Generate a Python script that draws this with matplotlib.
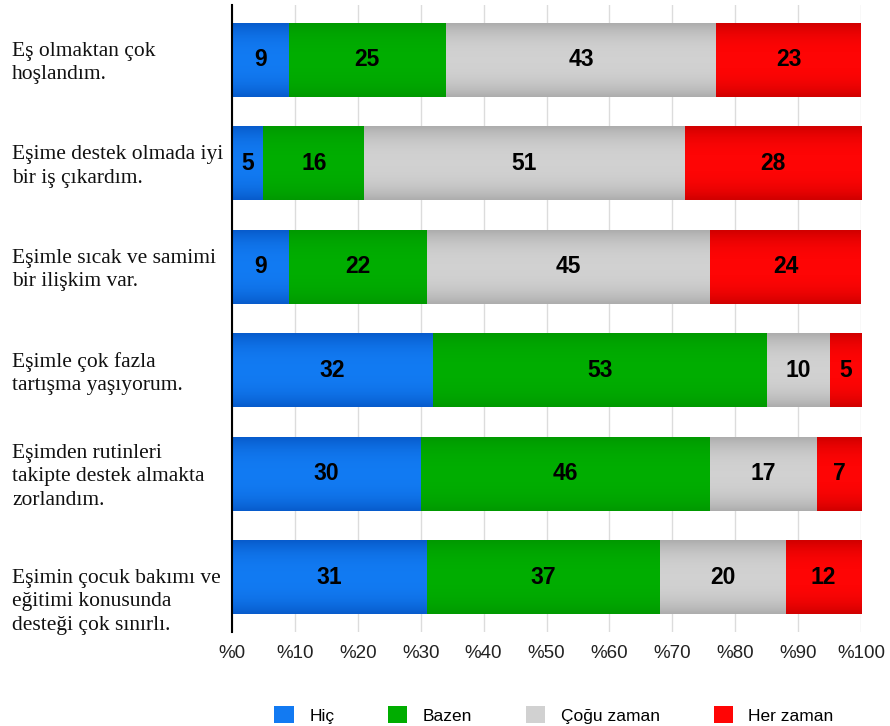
import numpy as np
import matplotlib
matplotlib.use("Agg")
import matplotlib.pyplot as plt
import matplotlib.transforms as mtransforms
from matplotlib.patches import Patch

# data
items = [
    "Eş olmaktan çok\nhoşlandım.",
    "Eşime destek olmada iyi\nbir iş çıkardım.",
    "Eşimle sıcak ve samimi\nbir ilişkim var.",
    "Eşimle çok fazla\ntartışma yaşıyorum.",
    "Eşimden rutinleri\ntakipte destek almakta\nzorlandım.",
    "Eşimin çocuk bakımı ve\neğitimi konusunda\ndesteği çok sınırlı.",
]
series = ["Hiç", "Bazen", "Çoğu zaman", "Her zaman"]
hic = [9, 5, 9, 32, 30, 31]
bazen = [25, 16, 22, 53, 46, 37]
cogu = [43, 51, 45, 10, 17, 20]
her = [23, 28, 24, 5, 7, 12]
tick_labels = ["%0", "%10", "%20", "%30", "%40", "%50", "%60", "%70", "%80", "%90", "%100"]

# center colour, edge colour
colors = [
    ((0.07, 0.48, 0.95), (0.03, 0.36, 0.80)),
    ((0.00, 0.68, 0.00), (0.00, 0.60, 0.00)),
    ((0.82, 0.82, 0.82), (0.68, 0.68, 0.68)),
    ((1.00, 0.02, 0.02), (0.82, 0.00, 0.00)),
]


def gradient(c_mid, c_edge, n=64):
    t = np.linspace(-1, 1, n)
    w = (np.abs(t) ** 2.5)[:, None]
    img = np.array(c_mid)[None, :] * (1 - w) + np.array(c_edge)[None, :] * w
    return img[:, None, :]


fig = plt.figure(figsize=(8.9, 7.26), dpi=100)
ax = fig.add_axes([232 / 890, 1 - 632 / 726, (861 - 232) / 890, 627 / 726])

y = np.arange(len(items))
h = 0.715
left = np.zeros(len(items))
for vals, (cm, ce) in zip([hic, bazen, cogu, her], colors):
    bars = ax.barh(y, vals, left=left, height=h, color=cm, zorder=2)
    for b, v in zip(bars, vals):
        x0, y0 = b.get_x(), b.get_y()
        im = ax.imshow(gradient(cm, ce), extent=(x0, x0 + b.get_width(), y0 + h, y0),
                       aspect="auto", interpolation="bilinear", zorder=3)
        im.set_clip_path(b)
        ax.text(x0 + b.get_width() / 2, y0 + h / 2, str(v), ha="center", va="center",
                fontsize=16.5, fontweight="bold", family="Liberation Sans", zorder=4)
    left += np.array(vals)

ax.set_xlim(0, 100)
ax.set_ylim(len(items) - 0.47, -0.53)
ax.set_xticks(np.arange(0, 101, 10))
ax.set_xticklabels(tick_labels, fontsize=13.5, family="Liberation Sans", color="#222222")
ax.tick_params(axis="x", length=0, pad=9)
ax.set_yticks([])
ax.grid(axis="x", color="#dcdcdc", lw=1, zorder=0)
for s in ["top", "right", "bottom"]:
    ax.spines[s].set_visible(False)
ax.spines["left"].set_linewidth(1.5)
ax.spines["left"].set_zorder(5)

trans = mtransforms.blended_transform_factory(fig.transFigure, ax.transData)
for i, (yi, lab) in enumerate(zip(y, items)):
    # last label sits a bit lower in the original
    off = 0.24 if i == len(items) - 1 else 0.03
    ax.text(12 / 890, yi + off, lab, transform=trans, ha="left", va="center",
            fontsize=15.5, family="Liberation Serif", linespacing=1.32, color="#111111")

handles = [Patch(facecolor=cm, edgecolor="none") for cm, ce in colors]
fig.legend(handles, series, loc="center", bbox_to_anchor=(554 / 890, 1 - 715 / 726),
           ncol=4, frameon=False, prop={"family": "Liberation Sans", "size": 12.5},
           handlelength=1.1, handleheight=1.1, columnspacing=3.1, handletextpad=0.9)

fig.savefig("out.png", dpi=100)
